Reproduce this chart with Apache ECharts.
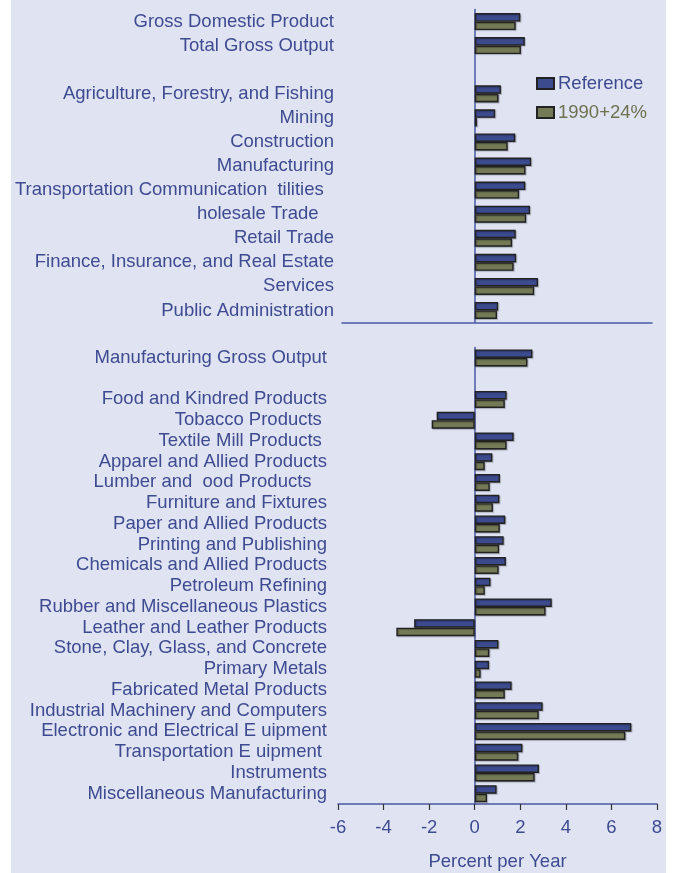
<!DOCTYPE html>
<html lang="en">
  <head>
    <meta charset="UTF-8" />
    <title>Growth by Industry</title>
    <script src="https://cdn.jsdelivr.net/npm/echarts@6.0.0/dist/echarts.min.js"></script>
    <style>
      html,
      body {
        margin: 0;
        padding: 0;
        background: #fff;
      }
      #chart {
        width: 675px;
        height: 873px;
      }
    </style>
  </head>
  <body>
    <div id="chart"></div>

    <script>
      // top panel: economy-wide and major sectors
      var topCategories = [
        'Gross Domestic Product',
        'Total Gross Output',
        '',
        'Agriculture, Forestry, and Fishing',
        'Mining',
        'Construction',
        'Manufacturing',
        'Transportation Communication  tilities  ',
        'holesale Trade   ',
        'Retail Trade',
        'Finance, Insurance, and Real Estate',
        'Services',
        'Public Administration'
      ];
      var topReference = [2.0, 2.2, '-', 1.15, 0.9, 1.78, 2.48, 2.22, 2.43, 1.8, 1.82, 2.78, 1.03];
      var top1990 = [1.8, 2.03, '-', 1.04, 0.1, 1.45, 2.23, 1.95, 2.26, 1.64, 1.71, 2.61, 0.98];

      // bottom panel: manufacturing detail
      var bottomCategories = [
        'Manufacturing Gross Output',
        '',
        'Food and Kindred Products',
        'Tobacco Products ',
        'Textile Mill Products ',
        'Apparel and Allied Products',
        'Lumber and  ood Products   ',
        'Furniture and Fixtures',
        'Paper and Allied Products',
        'Printing and Publishing',
        'Chemicals and Allied Products',
        'Petroleum Refining',
        'Rubber and Miscellaneous Plastics',
        'Leather and Leather Products',
        'Stone, Clay, Glass, and Concrete',
        'Primary Metals',
        'Fabricated Metal Products',
        'Industrial Machinery and Computers',
        'Electronic and Electrical E uipment',
        'Transportation E uipment ',
        'Instruments',
        'Miscellaneous Manufacturing'
      ];
      var bottomReference = [
        2.53, '-', 1.4, -1.67, 1.71, 0.77, 1.11, 1.08, 1.34, 1.27, 1.37,
        0.69, 3.38, -2.66, 1.04, 0.63, 1.62, 2.98, 6.87, 2.09, 2.82, 0.96
      ];
      var bottom1990 = [
        2.31, '-', 1.32, -1.89, 1.4, 0.44, 0.66, 0.8, 1.1, 1.07, 1.05,
        0.44, 3.11, -3.44, 0.64, 0.26, 1.32, 2.81, 6.61, 1.91, 2.63, 0.54
      ];

      var xTicks = [-6, -4, -2, 0, 2, 4, 6, 8];
      var seriesNames = ['Reference', '1990+24%'];

      var textBlue = '#3e4b91';
      var axisBlue = '#4b5aa3';
      var refColor = '#3c4a8e';
      var oliveColor = '#747a55';
      var font = 'Liberation Sans, Arial, sans-serif';
      var fs = 18.5;

      var chart = echarts.init(document.getElementById('chart'));

      function barSeries(name, data, gridIdx, color) {
        return {
          name: name,
          type: 'bar',
          xAxisIndex: gridIdx,
          yAxisIndex: gridIdx,
          data: data,
          barWidth: 8.5,
          barGap: '0%',
          itemStyle: {
            color: color,
            borderColor: '#222',
            borderWidth: 1.4,
            shadowColor: 'rgba(0,0,0,0.25)',
            shadowOffsetX: 1,
            shadowOffsetY: 1,
            shadowBlur: 1
          },
          emphasis: { disabled: true }
        };
      }

      var option = {
        animation: false,
        textStyle: { fontFamily: font },
        graphic: [
          {
            type: 'rect',
            z: -10,
            shape: { x: 11, y: 0, width: 655, height: 873 },
            style: { fill: '#dfe3f2' }
          }
        ],
        legend: {
          orient: 'vertical',
          left: 531,
          top: 69,
          icon: 'rect',
          itemWidth: 17,
          itemHeight: 11,
          itemGap: 10,
          textStyle: { fontSize: fs, fontFamily: font, padding: [0, 0, 0, -1] },
          data: [
            { name: 'Reference', textStyle: { color: textBlue } },
            { name: '1990+24%', textStyle: { color: '#6d7150' } }
          ]
        },
        grid: [
          { left: 342, right: 23, top: 9.5, height: 313, containLabel: false, outerBoundsMode: 'none' },
          { left: 338, right: 18, top: 347.5, height: 456.5, containLabel: false, outerBoundsMode: 'none' }
        ],
        xAxis: [
          {
            type: 'value',
            gridIndex: 0,
            min: -5.82,
            max: 7.78,
            axisLine: { show: true, onZero: false, lineStyle: { color: axisBlue, width: 1.5 } },
            axisTick: { show: false },
            axisLabel: { show: false },
            splitLine: { show: false }
          },
          {
            type: 'value',
            gridIndex: 1,
            min: xTicks[0],
            max: xTicks[xTicks.length - 1],
            interval: 2,
            axisLine: { show: true, onZero: false, lineStyle: { color: axisBlue, width: 1.5 } },
            axisTick: { show: true, length: 6, lineStyle: { color: '#333', width: 1.2 } },
            axisLabel: { color: textBlue, fontSize: fs, margin: 14 },
            splitLine: { show: false },
            name: 'Percent per Year',
            nameLocation: 'middle',
            nameGap: 48,
            nameTextStyle: { color: textBlue, fontSize: fs }
          }
        ],
        yAxis: [
          {
            type: 'category',
            gridIndex: 0,
            inverse: true,
            data: topCategories,
            axisLine: { show: true, onZero: true, lineStyle: { color: axisBlue, width: 1.5 } },
            axisTick: { show: false },
            axisLabel: { color: textBlue, fontSize: fs, margin: 8, interval: 0, padding: [4, 0, 0, 0] }
          },
          {
            type: 'category',
            gridIndex: 1,
            inverse: true,
            data: bottomCategories,
            axisLine: { show: true, onZero: true, lineStyle: { color: axisBlue, width: 1.5 } },
            axisTick: { show: false },
            axisLabel: { color: textBlue, fontSize: fs, margin: 11, interval: 0, padding: [4, 0, 0, 0] }
          }
        ],
        series: [
          barSeries(seriesNames[0], topReference, 0, refColor),
          barSeries(seriesNames[1], top1990, 0, oliveColor),
          barSeries(seriesNames[0], bottomReference, 1, refColor),
          barSeries(seriesNames[1], bottom1990, 1, oliveColor)
        ]
      };

      chart.setOption(option);
    </script>
  </body>
</html>
